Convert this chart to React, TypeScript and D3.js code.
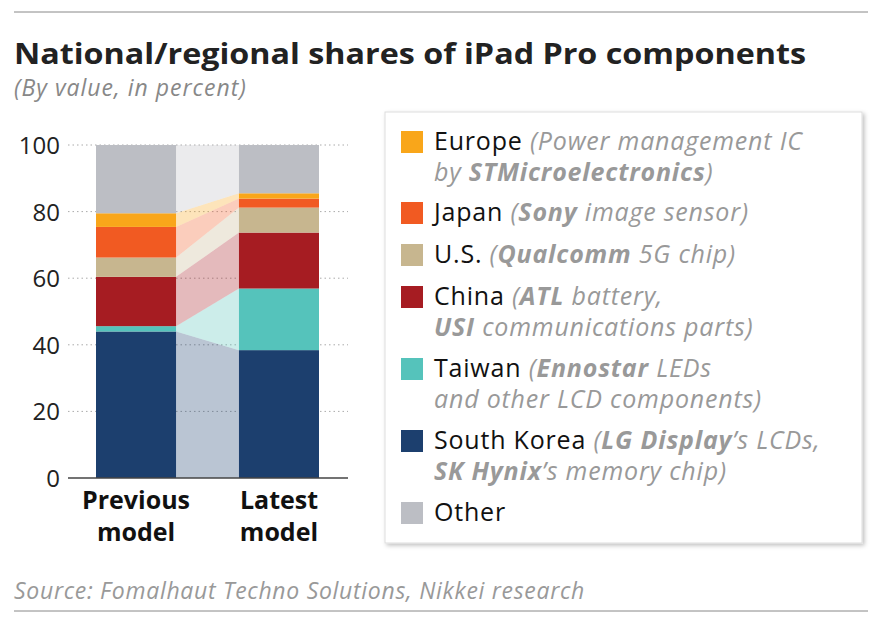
import * as d3 from 'd3'

const models = ['Previous model', 'Latest model']
const regions = ['South Korea', 'Taiwan', 'China', 'U.S.', 'Japan', 'Europe', 'Other']
const previous = [44, 1.6, 14.8, 5.8, 9.2, 4.1, 20.5]
const latest = [38.4, 18.5, 16.8, 7.5, 2.7, 1.6, 14.5]
const colors = ['#1c3f6e', '#55c3bb', '#a61c22', '#c7b68f', '#f15a22', '#f9a61a', '#bcbec4']
const ticks = [0, 20, 40, 60, 80, 100]

// legend rows, top to bottom: [label, colour index, lines of [text, bold]]
const legend: [string, number, [string, boolean][][]][] = [
  ['Europe', 5, [[[' (Power management IC', false]], [['by ', false], ['STMicroelectronics', true], [')', false]]]],
  ['Japan', 4, [[[' (', false], ['Sony', true], [' image sensor)', false]]]],
  ['U.S.', 3, [[[' (', false], ['Qualcomm', true], [' 5G chip)', false]]]],
  ['China', 2, [[[' (', false], ['ATL', true], [' battery,', false]], [['USI', true], [' communications parts)', false]]]],
  ['Taiwan', 1, [[[' (', false], ['Ennostar', true], [' LEDs', false]], [['and other LCD components)', false]]]],
  ['South Korea', 0, [[[' (', false], ['LG Display', true], ['\u2019s LCDs,', false]], [['SK Hynix', true], ['\u2019s memory chip)', false]]]],
  ['Other', 6, []],
]

const font = '"Open Sans", Lato, sans-serif'

export default function App() {
  const y = d3.scaleLinear().domain([0, 100]).range([478, 145])
  const x = d3.scaleBand().domain(models).range([96, 319]).paddingInner(0.44)
  const bw = x.bandwidth()
  const stack = (vals: number[]) => {
    let acc = 0
    return vals.map((v) => { const s = acc; acc += v; return [s, acc] })
  }
  const sp = stack(previous)
  const sl = stack(latest)
  const x0 = x(models[0])! + bw
  const x1 = x(models[1])!
  const rowYs = [150, 221, 263, 305, 377, 449, 521]

  return (
    <svg width={882} height={623} style={{ fontFamily: font, position: 'absolute', left: 0, top: 0 }}>
      <defs>
        <filter id="sh" x="-5%" y="-5%" width="115%" height="115%">
          <feDropShadow dx="2" dy="2" stdDeviation="2" floodColor="#000" floodOpacity="0.25" />
        </filter>
      </defs>
      <line x1={14} x2={868} y1={12} y2={12} stroke="#888" />
      <text x={14} y={64} fontSize={29} fontWeight={700} fill="#222" textLength={792} lengthAdjust="spacingAndGlyphs">National/regional shares of iPad Pro components</text>
      <text x={14} y={96} fontSize={23} fontStyle="italic" fill="#888" letterSpacing={1}>(By value, in percent)</text>

      {ticks.map((t) => (
        <g key={t}>
          {t > 0 && <line x1={68} x2={348} y1={y(t)} y2={y(t)} stroke="#aaa" strokeDasharray="1.5 3" />}
          <text x={60} y={y(t) + 9} fontSize={24} textAnchor="end" fill="#222">{t}</text>
        </g>
      ))}

      {regions.map((r, i) => (
        <polygon key={'rb' + r} fill={colors[i]} opacity={0.3}
          points={`${x0},${y(sp[i][0])} ${x1},${y(sl[i][0])} ${x1},${y(sl[i][1])} ${x0},${y(sp[i][1])}`} />
      ))}
      {regions.map((r, i) => (
        <g key={r}>
          <rect x={x(models[0])} width={bw} y={y(sp[i][1])} height={y(sp[i][0]) - y(sp[i][1])} fill={colors[i]} />
          <rect x={x(models[1])} width={bw} y={y(sl[i][1])} height={y(sl[i][0]) - y(sl[i][1])} fill={colors[i]} />
        </g>
      ))}
      <line x1={68} x2={348} y1={478} y2={478} stroke="#444" strokeWidth={1.5} />
      {models.map((m) => (
        <text key={m} fontSize={25} fontWeight={700} textAnchor="middle" fill="#111">
          <tspan x={x(m)! + bw / 2} y={509}>{m.split(' ')[0]}</tspan>
          <tspan x={x(m)! + bw / 2} y={541}>{m.split(' ')[1]}</tspan>
        </text>
      ))}

      <rect x={385} y={112} width={477} height={431} fill="#fff" stroke="#ddd" filter="url(#sh)" />
      {legend.map(([label, ci, lines], k) => (
        <g key={label} fontSize={25} letterSpacing={0.8}>
          <rect x={401} y={rowYs[k] - 19} width={22} height={22} fill={colors[ci]} />
          <text x={434} y={rowYs[k]} fill="#111">
            {label}
            {lines[0] && lines[0].map(([t, b], j) => (
              <tspan key={j} fontStyle="italic" fontWeight={b ? 700 : 400} fill="#999">{t}</tspan>
            ))}
          </text>
          {lines[1] && (
            <text x={434} y={rowYs[k] + 31} fontStyle="italic" fill="#999">
              {lines[1].map(([t, b], j) => (
                <tspan key={j} fontWeight={b ? 700 : 400}>{t}</tspan>
              ))}
            </text>
          )}
        </g>
      ))}

      <text x={14} y={599} fontSize={23} fontStyle="italic" fill="#999" letterSpacing={0.7}>Source: Fomalhaut Techno Solutions, Nikkei research</text>
      <line x1={14} x2={868} y1={611} y2={611} stroke="#888" />
    </svg>
  )
}
